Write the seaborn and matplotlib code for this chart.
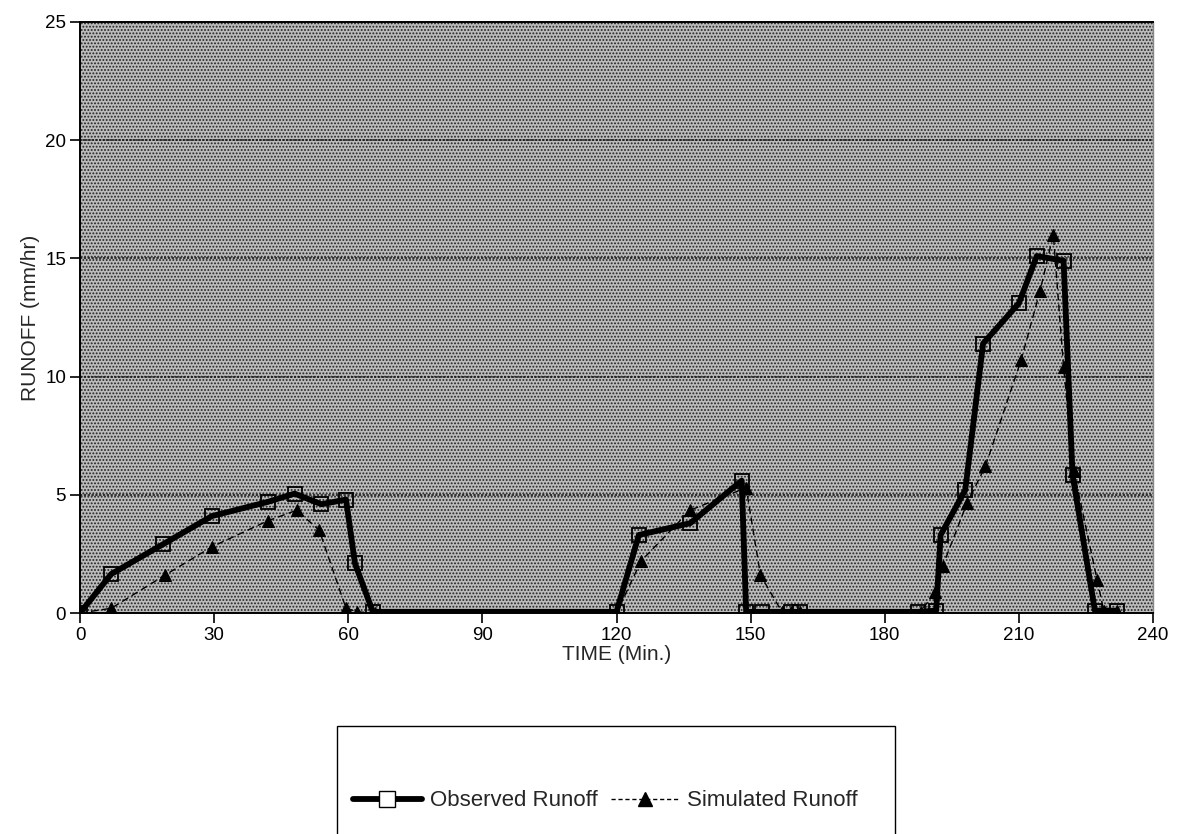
import matplotlib
matplotlib.use("Agg")
import matplotlib.pyplot as plt
import seaborn as sns
import pandas as pd
from matplotlib.lines import Line2D
from matplotlib.patches import Rectangle

# ---- data ----
t_obs = [0, 7, 18.5, 29.5, 42, 48, 54, 59.5, 61.5, 65.5,
         120, 125, 136.5, 148, 149, 152.5, 159, 161,
         187.5, 191.5, 192.5, 198, 202, 210, 214, 220, 222, 227, 232]
y_obs = [0, 1.65, 2.9, 4.1, 4.7, 5.05, 4.6, 4.8, 2.1, 0.05,
         0.05, 3.3, 3.8, 5.6, 0.05, 0.05, 0.05, 0.05,
         0.05, 0.1, 3.3, 5.2, 11.4, 13.1, 15.1, 14.9, 5.85, 0.1, 0.1]

t_sim = [0, 7, 19, 29.5, 42, 48.5, 53.5, 59.5, 62, 66,
         120, 125.5, 136.5, 149, 152.2, 157, 159, 161,
         188, 191.3, 193, 198.4, 202.5, 210.5, 214.7, 217.7, 220, 222.3, 227.5, 229, 232]
y_sim = [0, 0.2, 1.6, 2.8, 3.9, 4.35, 3.5, 0.2, 0.05, 0,
         0, 2.2, 4.35, 5.3, 1.6, 0.05, 0.05, 0.05,
         0.05, 0.9, 2.0, 4.65, 6.2, 10.7, 13.6, 16.0, 10.4, 6.0, 1.4, 0.1, 0.1]

x_ticks = [0, 30, 60, 90, 120, 150, 180, 210, 240]
y_ticks = [0, 5, 10, 15, 20, 25]
series_names = ["Observed Runoff", "Simulated Runoff"]

sns.set_style("white")
plt.rcParams['font.family'] = ['Liberation Sans', 'DejaVu Sans']
plt.rcParams['hatch.linewidth'] = 0.9
plt.rcParams['hatch.color'] = '#222222'

fig = plt.figure(figsize=(11.81, 8.34), dpi=100)
ax = fig.add_axes([80/1181, 1-613/834, (1153-80)/1181, (613-22)/834])

# dotted background
ax.set_facecolor("white")
bg = Rectangle((0, 0), 1, 1, transform=ax.transAxes, facecolor="#bcbcbc",
               edgecolor="#222222", hatch=".....", linewidth=0, zorder=0)
ax.add_patch(bg)

df_obs = pd.DataFrame({"t": t_obs, "y": y_obs})
df_sim = pd.DataFrame({"t": t_sim, "y": y_sim})

sns.lineplot(data=df_sim, x="t", y="y", ax=ax, color="black", linewidth=1.0,
             linestyle=(0, (5, 3)), marker="^", markersize=9,
             markerfacecolor="black", markeredgecolor="black", sort=False, zorder=3)
sns.lineplot(data=df_obs, x="t", y="y", ax=ax, color="black", linewidth=4.2,
             marker="s", markersize=10.5, markerfacecolor="none",
             markeredgecolor="black", markeredgewidth=1.3, sort=False, zorder=4)

ax.set_xlim(0, 240)
ax.set_ylim(0, 25)
ax.set_xticks(x_ticks)
ax.set_yticks(y_ticks)
ax.tick_params(axis="both", direction="out", length=7, width=1.2, colors="black",
               labelsize=13.5, left=True, bottom=True, pad=3)
for yv in y_ticks[1:-1]:
    ax.axhline(yv, color="#111111", linewidth=1.1, linestyle=(0, (1.5, 1.0)), zorder=1)

for s in ["left", "bottom", "top"]:
    ax.spines[s].set_visible(True)
    ax.spines[s].set_color("black")
    ax.spines[s].set_linewidth(1.4)
ax.spines["right"].set_visible(True)
ax.spines["right"].set_color("#888888")
ax.spines["right"].set_linewidth(1.0)

ax.set_xlabel("TIME (Min.)", fontsize=15, labelpad=1)
ax.set_ylabel("RUNOFF (mm/hr)", fontsize=15, labelpad=4)

# legend
handles = [
    Line2D([], [], color="black", linewidth=4.2, marker="s", markersize=11,
           markerfacecolor="white", markeredgecolor="black"),
    Line2D([], [], color="black", linewidth=1.0, linestyle=(0, (3, 2)), marker="^",
           markersize=10, markerfacecolor="black", markeredgecolor="black"),
]
fig.legend(handles, series_names, loc="center left", bbox_to_anchor=(333/1181, 1-801/834),
           ncol=2, frameon=False, fontsize=16, handlelength=3.1, columnspacing=0.6,
           handletextpad=0.35)
fig.patches.append(Rectangle((337/1181, -0.05), (895-337)/1181, 0.05 + (834-726)/834,
                             transform=fig.transFigure, facecolor="none",
                             edgecolor="black", linewidth=1.0))

fig.savefig("out.png", dpi=100)
